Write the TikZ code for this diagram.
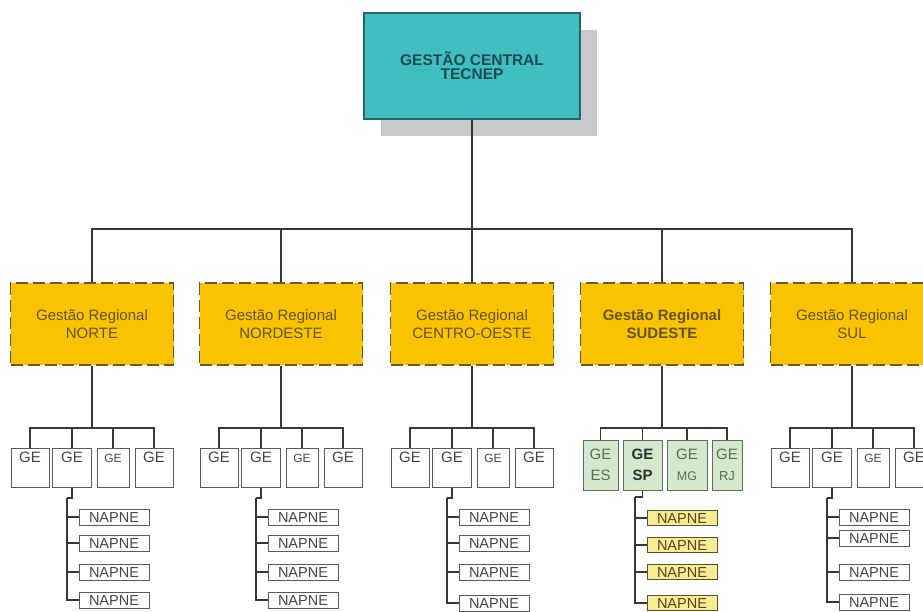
\documentclass[tikz,border=0pt]{standalone}
\usepackage{fontspec}
\setmainfont{Liberation Sans}
\definecolor{tealfill}{RGB}{64,190,194}
\definecolor{tealborder}{RGB}{40,100,105}
\definecolor{tealtext}{RGB}{28,75,80}
\definecolor{shadowc}{RGB}{200,201,205}
\definecolor{gold}{RGB}{250,195,0}
\definecolor{goldborder}{RGB}{105,90,40}
\definecolor{goldtext}{RGB}{100,82,15}
\definecolor{linec}{RGB}{55,55,55}
\definecolor{geborder}{RGB}{90,90,90}
\definecolor{getext}{RGB}{70,70,70}
\definecolor{greenfill}{RGB}{212,232,205}
\definecolor{greenborder}{RGB}{90,110,90}
\definecolor{greentext}{RGB}{85,110,85}
\definecolor{greendark}{RGB}{40,50,40}
\definecolor{napyellow}{RGB}{246,236,150}
\definecolor{napborder}{RGB}{90,80,40}
\definecolor{naptext}{RGB}{85,70,20}
\begin{document}
\begin{tikzpicture}[x=1pt,y=-1pt,
  conn/.style={draw=linec, line width=1.1pt},
  trunk/.style={draw=linec, line width=1.5pt},
  stem/.style={draw=linec, line width=2.2pt},
  napstem/.style={draw=linec, line width=1.5pt},
  central/.style={rectangle, fill=tealfill, draw=tealborder, line width=2.5pt,
    minimum width=216pt, minimum height=106pt, align=center, text=tealtext,
    font=\fontsize{15.5}{14}\selectfont\bfseries, inner sep=0pt},
  region/.style={rectangle, fill=gold, draw=goldborder, line width=1.2pt,
    dash pattern=on 12pt off 5pt, minimum width=163pt, minimum height=82pt,
    align=center, text=goldtext, font=\fontsize{15}{18}\selectfont, inner sep=0pt},
  gebox/.style={rectangle, draw=geborder, fill=white, line width=1pt,
    inner xsep=0pt, inner ysep=4pt, text height=10.5pt, text depth=20.5pt,
    text=getext, font=\fontsize{15}{17}\selectfont},
  gesmall/.style={gebox, font=\fontsize{12}{14}\selectfont},
  sebox/.style={rectangle, draw=greenborder, fill=greenfill, line width=1pt,
    inner sep=0pt, minimum height=50pt, align=center, text=greentext,
    font=\fontsize{15}{21}\selectfont},
  napbox/.style={rectangle, draw=geborder, fill=white, line width=1pt,
    inner sep=0pt, minimum width=70pt, minimum height=16pt, text height=10.5pt,
    text depth=0pt, text=getext, font=\fontsize{14.5}{14}\selectfont},
  napyel/.style={napbox, fill=napyellow, draw=napborder, text=naptext, minimum height=15pt}
]
\useasboundingbox (0,0) rectangle (923,611);
% central
\fill[shadowc] (381,30) rectangle (597,136);
\node[central] (central) at (472,66) {GESTÃO CENTRAL\\TECNEP};
\coordinate (busT) at (472,229);
\draw[trunk] (central.south) -- (busT);
% normal columns
\foreach \i/\cx/\ya/\yb/\yc/\yd/\rname in {1/92/517/543/572/600/NORTE,2/281/517/543/572/600/NORDESTE,3/472/517/543/572/603/CENTRO-OESTE,5/852/517/538/572/602/SUL}{
  \node[region] (r\i) at (\cx,324) {Gestão Regional\\\rname};
  \draw[conn] (r\i.north) |- (busT);
  \coordinate (gbus\i) at (\cx,428);
  \draw[stem] (r\i.south) -- (gbus\i);
  \node[gebox, minimum width=38pt] (geA\i) at (\cx-62,467.5) {GE};
  \node[gebox, minimum width=39pt] (geB\i) at (\cx-20,467.5) {GE};
  \node[gesmall, minimum width=32pt] (geC\i) at (\cx+21,467.5) {GE};
  \node[gebox, minimum width=38pt] (geD\i) at (\cx+62,467.5) {GE};
  \foreach \g in {A,B,C,D}{\draw[conn] (ge\g\i.north) |- (gbus\i);}
  \coordinate (nj\i) at (\cx-25,498);
  \node[napbox] (npA\i) at (\cx+22,\ya) {NAPNE};
  \node[napbox] (npB\i) at (\cx+22,\yb) {NAPNE};
  \node[napbox] (npC\i) at (\cx+22,\yc) {NAPNE};
  \node[napbox] (npD\i) at (\cx+22,\yd) {NAPNE};
  \draw[napstem] (geB\i.south) |- (nj\i);
  \foreach \n in {A,B,C,D}{\draw[napstem] (nj\i) |- (np\n\i.west);}
}
% Sudeste
\node[region, font=\fontsize{15}{18}\selectfont\bfseries] (r4) at (662,324) {Gestão Regional\\SUDESTE};
\draw[conn] (r4.north) |- (busT);
\coordinate (gbus4) at (662,428);
\draw[stem] (r4.south) -- (gbus4);
\node[sebox, minimum width=35pt] (seA) at (600.5,465) {GE\\ES};
\node[sebox, minimum width=39pt, text=greendark, font=\fontsize{15}{21}\selectfont\bfseries] (seB) at (642.5,465) {GE\\SP};
\node[sebox, minimum width=40pt] (seC) at (687,465) {GE\\{\fontsize{12.5}{21}\selectfont MG}};
\node[sebox, minimum width=30pt] (seD) at (727,465) {GE\\{\fontsize{13}{21}\selectfont RJ}};
\foreach \g in {A,B,C,D}{\draw[conn] (se\g.north) |- (gbus4);}
\coordinate (nj4) at (635,497);
\node[napyel] (syA) at (682,518) {NAPNE};
\node[napyel] (syB) at (682,545) {NAPNE};
\node[napyel] (syC) at (682,572) {NAPNE};
\node[napyel] (syD) at (682,603) {NAPNE};
\draw[napstem] (seB.south) |- (nj4);
\foreach \n in {A,B,C,D}{\draw[napstem] (nj4) |- (sy\n.west);}
\end{tikzpicture}
\end{document}
